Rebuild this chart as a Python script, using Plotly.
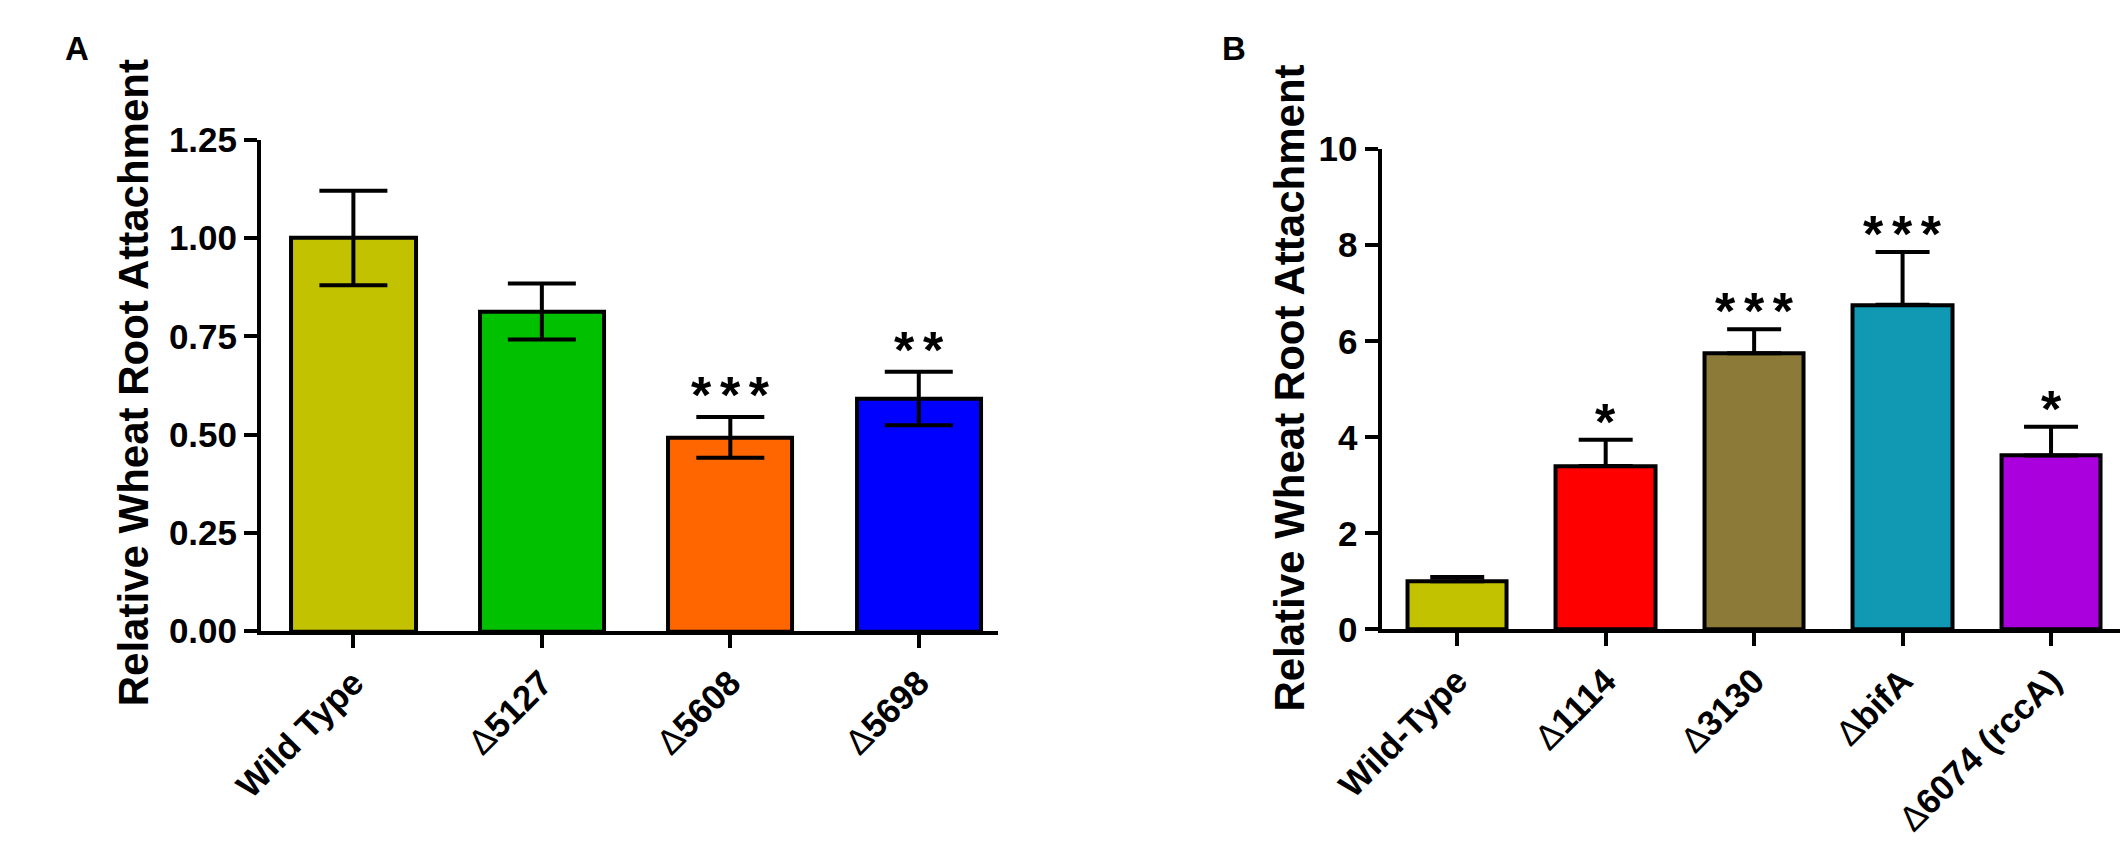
import plotly.graph_objects as go

# panel A data
cats_a = ["Wild Type", "Δ5127", "Δ5608", "Δ5698"]
mean_a = [1.00, 0.813, 0.493, 0.592]
err_a = [0.12, 0.071, 0.052, 0.068]
colors_a = ["#C2C200", "#00C000", "#FF6600", "#0000FF"]
stars_a = ["", "", "***", "**"]
ticks_a = [0.0, 0.25, 0.5, 0.75, 1.0, 1.25]

# panel B data
cats_b = ["Wild-Type", "Δ1114", "Δ3130", "ΔbifA", "Δ6074 (rccA)"]
mean_b = [1.00, 3.40, 5.75, 6.76, 3.62]
err_b = [0.09, 0.55, 0.50, 1.10, 0.60]
colors_b = ["#C2C200", "#FF0000", "#8C7B38", "#1199B4", "#AA00DD"]
stars_b = ["", "*", "***", "***", "*"]
ticks_b = [0, 2, 4, 6, 8, 10]

FONT = "Liberation Sans, Arial, sans-serif"
W, H = 2128, 857


def fmt_label(s):
    # thin delta like the original, rest bold
    if s.startswith("Δ"):
        return "Δ<b>" + s[1:] + "</b>"
    return "<b>" + s + "</b>"


def star_text(s):
    return "\u2006".join(list(s))


fig = go.Figure()

fig.add_trace(go.Bar(
    x=list(range(len(cats_a))), y=mean_a, width=0.66,
    marker=dict(color=colors_a, line=dict(color="black", width=4)),
    error_y=dict(type="data", array=err_a, color="black", thickness=4, width=34),
    xaxis="x", yaxis="y", showlegend=False))

fig.add_trace(go.Bar(
    x=list(range(len(cats_b))), y=mean_b, width=0.67,
    marker=dict(color=colors_b, line=dict(color="black", width=4)),
    error_y=dict(type="data", symmetric=False, array=err_b,
                 arrayminus=[0] * len(err_b), color="black", thickness=4, width=27),
    xaxis="x2", yaxis="y2", showlegend=False))

axis_common = dict(showgrid=False, zeroline=False, showline=True, linecolor="black",
                   linewidth=4, ticks="outside", ticklen=13, tickwidth=4,
                   tickcolor="black", tickfont=dict(family=FONT, size=35, color="black"))

fig.update_layout(
    width=W, height=H,
    margin=dict(l=0, r=0, t=0, b=0),
    paper_bgcolor="white", plot_bgcolor="white",
    bargap=0,
    xaxis=dict(domain=[207 / W, 962 / W], range=[-0.49, 3.42],
               tickmode="array", tickvals=list(range(len(cats_a))),
               ticktext=[fmt_label(c) for c in cats_a], tickangle=-45,
               anchor="y", **axis_common),
    yaxis=dict(domain=[1 - 632 / H, 1 - 117 / H], range=[0, 1.25],
               tickmode="array", tickvals=ticks_a,
               ticktext=["<b>%.2f</b>" % t for t in ticks_a],
               anchor="x", **axis_common),
    xaxis2=dict(domain=[1355 / W, 2117 / W], range=[-0.51, 4.5],
                tickmode="array", tickvals=list(range(len(cats_b))),
                ticktext=[fmt_label(c) for c in cats_b], tickangle=-45,
                anchor="y2", **axis_common),
    yaxis2=dict(domain=[1 - 630 / H, 1 - 127 / H], range=[0, 10],
                tickmode="array", tickvals=ticks_b,
                ticktext=["<b>%d</b>" % t for t in ticks_b],
                anchor="x2", **axis_common),
)

# significance stars
for i, s in enumerate(stars_a):
    if s:
        fig.add_annotation(x=i, y=mean_a[i] + err_a[i], xref="x", yref="y",
                           text="<b>" + star_text(s) + "</b>", showarrow=False,
                           yanchor="middle", yshift=22,
                           font=dict(family=FONT, size=52, color="black"))
for i, s in enumerate(stars_b):
    if s:
        fig.add_annotation(x=i, y=mean_b[i] + err_b[i], xref="x2", yref="y2",
                           text="<b>" + star_text(s) + "</b>", showarrow=False,
                           yanchor="middle", yshift=18,
                           font=dict(family=FONT, size=52, color="black"))

# y axis titles
for xp, yp in [(76, 372), (1261, 377)]:
    fig.add_annotation(x=xp / W, y=1 - yp / H, xref="paper", yref="paper",
                       text="<b>Relative Wheat Root Attachment</b>", textangle=-90,
                       showarrow=False, xanchor="center", yanchor="middle",
                       font=dict(family=FONT, size=42, color="black"))

# panel letters
for xp, letter in [(4, "A"), (1190, "B")]:
    fig.add_annotation(x=xp / W, y=1, xref="paper", yref="paper",
                       text="<b>" + letter + "</b>", showarrow=False,
                       xanchor="left", yanchor="top",
                       font=dict(family=FONT, size=33, color="black"))

fig.write_html("out.html")
